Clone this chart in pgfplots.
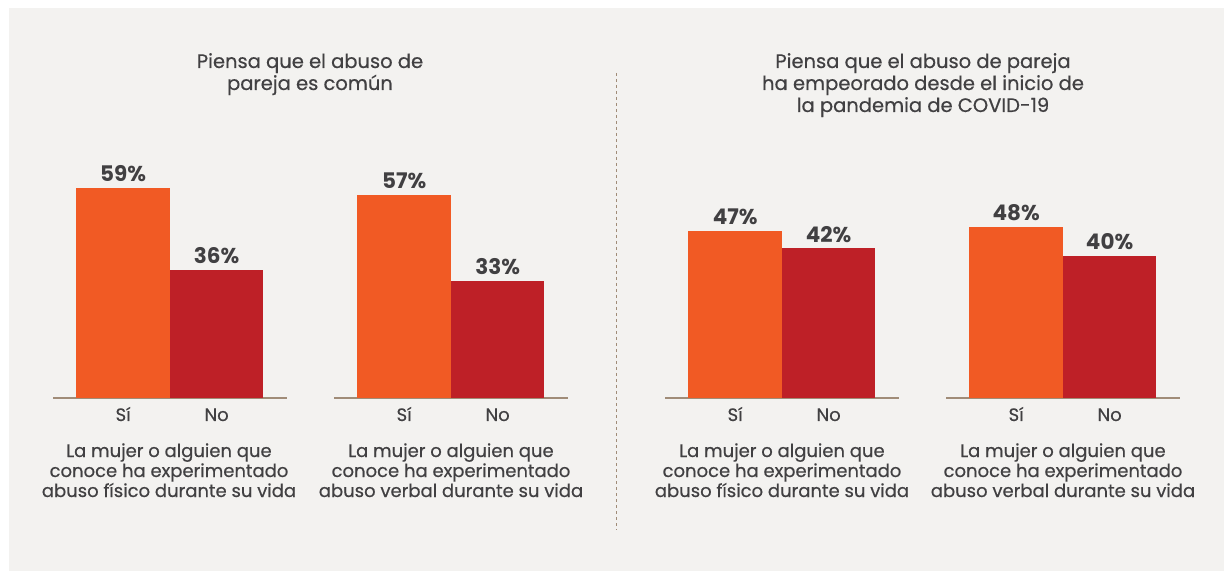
\documentclass[border=0pt]{standalone}
\usepackage{pgfplots}
\pgfplotsset{compat=1.18}
\usepackage{fontspec}
\setmainfont{Poppins}[UprightFeatures={FakeBold=0.5}]

\definecolor{bg}{HTML}{F3F2F0}
\definecolor{siorange}{HTML}{F15A24}
\definecolor{nored}{HTML}{BE2027}
\definecolor{txt}{HTML}{414042}
\definecolor{base}{HTML}{A08C78}

\newcommand{\lbl}{\fontsize{18}{20}\selectfont}

\pgfplotsset{
  grp/.style={
    scale only axis, anchor=south west,
    width=233.75pt, height=213.6pt,
    xmin=-0.75, xmax=1.75, ymin=0, ymax=60,
    axis x line*=bottom, axis y line=none,
    x axis line style={draw=base, line width=1.2pt},
    xtick={0,1}, xticklabels={Sí,No},
    major tick length=0pt,
    xticklabel style={font=\lbl, text=txt, inner sep=0pt, anchor=base, yshift=-23pt},
    ybar, bar width=93.5pt, bar shift=0pt,
    clip=false,
    point meta=y,
    nodes near coords={\pgfmathprintnumber{\pgfplotspointmeta}\%},
    nodes near coords style={font=\bfseries\fontsize{21.5}{24}\selectfont,
      text=txt, anchor=south, inner sep=0pt, yshift=6pt,
      /pgf/number format/assume math mode=true},
  }
}

\begin{document}
\begin{tikzpicture}[x=1pt,y=1pt]
\useasboundingbox (0,0) rectangle (1224,571);
\fill[white] (0,0) rectangle (1224,571);
\fill[bg] (9,0) rectangle (1224,563);

% left block: piensa que el abuso de pareja es comun
\begin{axis}[grp, at={(53pt,173pt)}]
\addplot[fill=siorange, draw=none] coordinates {(0,59)};
\addplot[fill=nored, draw=none] coordinates {(1,36)};
\end{axis}
\begin{axis}[grp, at={(334pt,173pt)}]
\addplot[fill=siorange, draw=none] coordinates {(0,57)};
\addplot[fill=nored, draw=none] coordinates {(1,33)};
\end{axis}

% right block: ha empeorado desde la pandemia
\begin{axis}[grp, at={(665pt,173pt)}]
\addplot[fill=siorange, draw=none] coordinates {(0,47)};
\addplot[fill=nored, draw=none] coordinates {(1,42)};
\end{axis}
\begin{axis}[grp, at={(946pt,173pt)}]
\addplot[fill=siorange, draw=none] coordinates {(0,48)};
\addplot[fill=nored, draw=none] coordinates {(1,40)};
\end{axis}

% divider
\draw[base, line width=0.8pt, dash pattern=on 3pt off 3pt] (616,498) -- (616,41);

% titles
\begin{scope}[every node/.style={text=txt, font=\fontsize{19.5}{22}\selectfont, anchor=base, inner sep=0pt}]
\node at (310,503) {Piensa que el abuso de};
\node at (310,481) {pareja es común};
\node at (923,503) {Piensa que el abuso de pareja};
\node at (923,481) {ha empeorado desde el inicio de};
\node at (923,459) {la pandemia de COVID-19};
\end{scope}

% group captions
\begin{scope}[every node/.style={text=txt, font=\lbl, anchor=base, inner sep=0pt}]
\foreach \cx/\kind in {169/físico, 451/verbal, 782/físico, 1063/verbal}{
  \node at (\cx,114) {La mujer o alguien que};
  \node at (\cx,94) {conoce ha experimentado};
  \node at (\cx,74) {abuso \kind{} durante su vida};
}
\end{scope}
\end{tikzpicture}
\end{document}
